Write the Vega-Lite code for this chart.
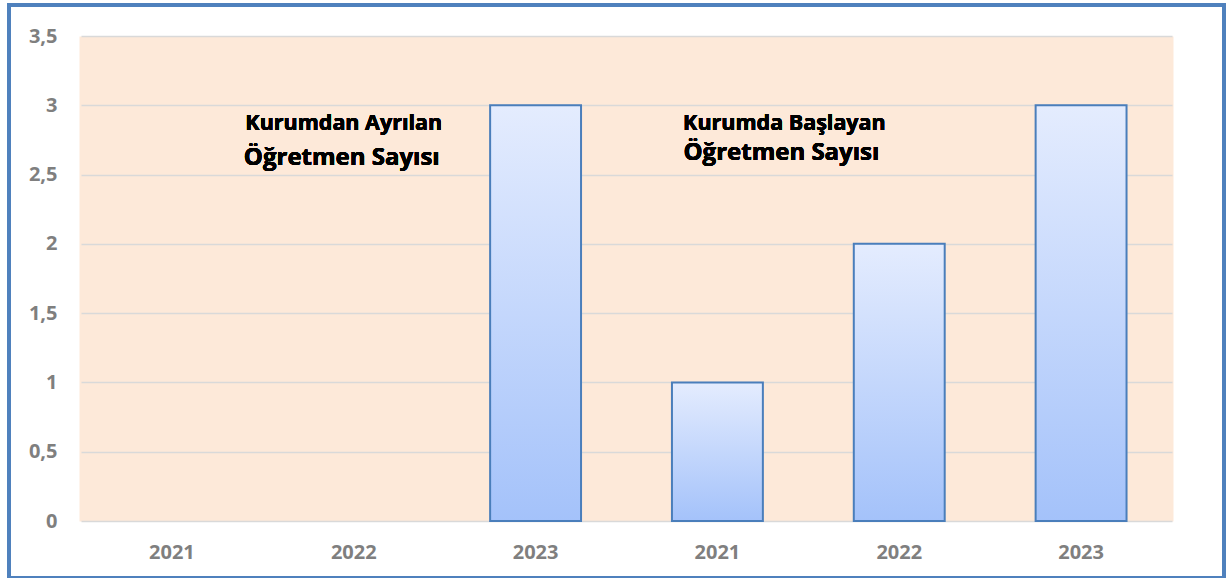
{
  "$schema": "https://vega.github.io/schema/vega-lite/v6.json",
  "autosize": {"type": "none"},
  "width": 1215,
  "height": 573,
  "padding": {"left": 9, "top": 5, "right": 3, "bottom": 0},
  "background": "white",
  "config": {
    "view": {"stroke": "#4F81BD", "strokeWidth": 4, "fill": "white"},
    "font": "Open Sans"
  },
  "data": {
    "values": [
      {"key": "A2021", "grup": "Kurumdan Ayrılan Öğretmen Sayısı", "yil": "2021", "value": 0},
      {"key": "A2022", "grup": "Kurumdan Ayrılan Öğretmen Sayısı", "yil": "2022", "value": 0},
      {"key": "A2023", "grup": "Kurumdan Ayrılan Öğretmen Sayısı", "yil": "2023", "value": 3},
      {"key": "B2021", "grup": "Kurumda Başlayan Öğretmen Sayısı", "yil": "2021", "value": 1},
      {"key": "B2022", "grup": "Kurumda Başlayan Öğretmen Sayısı", "yil": "2022", "value": 2},
      {"key": "B2023", "grup": "Kurumda Başlayan Öğretmen Sayısı", "yil": "2023", "value": 3}
    ]
  },
  "resolve": {"axis": {"x": "independent"}},
  "encoding": {
    "y": {
      "field": "value",
      "type": "quantitative",
      "scale": {"domain": [0, 3.5], "range": [516, 31], "nice": false, "zero": true},
      "axis": {
        "title": null,
        "values": [0, 0.5, 1, 1.5, 2, 2.5, 3, 3.5],
        "labelExpr": "replace(format(datum.value, '~g'), '.', ',')",
        "offset": -72,
        "domain": false,
        "ticks": false,
        "tickSize": 0,
        "labelPadding": 24,
        "labelFont": "Open Sans",
        "labelFontSize": 20,
        "labelFontWeight": "bold",
        "labelColor": "#7F7F7F",
        "grid": true,
        "gridColor": "#D9D9D9",
        "gridWidth": 1.5,
        "gridOpacity": 1
      }
    }
  },
  "layer": [
    {
      "mark": {
        "type": "bar",
        "fill": {
          "gradient": "linear",
          "x1": 0, "y1": 0, "x2": 0, "y2": 1,
          "stops": [
            {"offset": 0, "color": "#E4ECFE"},
            {"offset": 1, "color": "#A4C2FA"}
          ]
        },
        "stroke": "#4A7EBB",
        "strokeWidth": 2
      },
      "encoding": {
        "x": {
          "field": "key",
          "type": "nominal",
          "sort": null,
          "scale": {
            "domain": ["A2021", "A2022", "A2023", "B2021", "B2022", "B2023"],
            "range": [72, 1163],
            "paddingInner": 0.5,
            "paddingOuter": 0.25
          },
          "axis": {
            "orient": "bottom",
            "offset": -57,
            "title": null,
            "domain": false,
            "ticks": false,
            "grid": false,
            "labelExpr": "substring(datum.label, 1)",
            "labelAngle": 0,
            "labelFont": "Open Sans",
            "labelFontSize": 20,
            "labelFontWeight": "bold",
            "labelColor": "#7F7F7F",
            "labelPadding": 37,
            "labelBaseline": "alphabetic",
            "bandPosition": 0.5
          }
        },
        "strokeOpacity": {"condition": {"test": "datum.value == 0", "value": 0}, "value": 1}
      }
    },
    {
      "mark": {"type": "text", "font": "Open Sans", "fontWeight": "bold", "fontSize": 21.5, "color": "#000000", "align": "center", "baseline": "alphabetic", "dx": -10},
      "encoding": {
        "x": {
          "datum": "A2022",
          "type": "nominal",
          "axis": {
            "orient": "top",
            "title": null,
            "labels": false,
            "domain": false,
            "ticks": false,
            "bandPosition": 0.5,
            "grid": true,
            "gridColor": "#FDE9D9",
            "gridOpacity": 1,
            "gridWidth": 184
          }
        },
        "y": {"datum": 2.82},
        "text": {"value": "Kurumdan Ayrılan"}
      }
    },
    {
      "mark": {"type": "text", "font": "Open Sans", "fontWeight": "bold", "fontSize": 24, "color": "#000000", "align": "center", "baseline": "alphabetic", "dx": -12},
      "encoding": {"x": {"datum": "A2022", "type": "nominal", "axis": null}, "y": {"datum": 2.566}, "text": {"value": "Öğretmen Sayısı"}}
    },
    {
      "mark": {"type": "text", "font": "Open Sans", "fontWeight": "bold", "fontSize": 21.5, "color": "#000000", "align": "center", "baseline": "alphabetic", "dx": 67},
      "encoding": {"x": {"datum": "B2021", "type": "nominal", "axis": null}, "y": {"datum": 2.825}, "text": {"value": "Kurumda Başlayan"}}
    },
    {
      "mark": {"type": "text", "font": "Open Sans", "fontWeight": "bold", "fontSize": 24, "color": "#000000", "align": "center", "baseline": "alphabetic", "dx": 64},
      "encoding": {"x": {"datum": "B2021", "type": "nominal", "axis": null}, "y": {"datum": 2.603}, "text": {"value": "Öğretmen Sayısı"}}
    }
  ]
}
